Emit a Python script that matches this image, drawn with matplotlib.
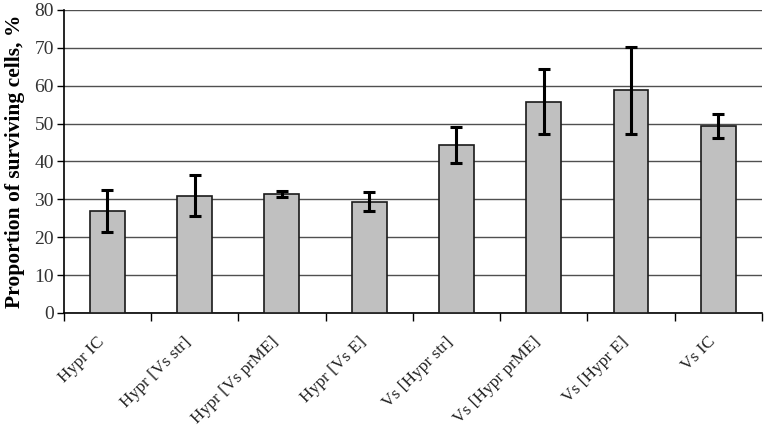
import matplotlib
matplotlib.use("Agg")
import matplotlib.pyplot as plt
import matplotlib.transforms as mtransforms
import numpy as np

categories = ["Hypr IC", "Hypr [Vs str]", "Hypr [Vs prME]", "Hypr [Vs E]",
              "Vs [Hypr str]", "Vs [Hypr prME]", "Vs [Hypr E]", "Vs IC"]
values = [27.0, 31.0, 31.3, 29.4, 44.4, 55.8, 58.8, 49.3]
errors = [5.5, 5.4, 0.8, 2.5, 4.8, 8.6, 11.5, 3.1]
y_ticks = [0, 10, 20, 30, 40, 50, 60, 70, 80]

plt.rcParams['font.family'] = ['Liberation Serif', 'DejaVu Serif']

fig = plt.figure(figsize=(7.68, 4.32), dpi=100)
ax = fig.add_axes([0.083, 0.2755, 0.909, 0.7015])

x = np.arange(len(categories))
ax.bar(x, values, width=0.4, color="#c0c0c0", edgecolor="#1a1a1a", linewidth=1.2, zorder=3)
ax.errorbar(x, values, yerr=errors, fmt="none", ecolor="black", elinewidth=2.2,
            capsize=4.5, capthick=2.2, zorder=4)

ax.set_xlim(-0.5, len(categories) - 0.5)
ax.set_ylim(0, 80)
ax.set_yticks(y_ticks)
ax.set_yticklabels([str(v) for v in y_ticks], fontsize=14, color="#333333")
ax.yaxis.grid(True, color="#505050", linewidth=1.0, zorder=0)
ax.set_axisbelow(True)

ax.set_xticks(x)
ax.set_xticklabels(categories, rotation=45, ha="right", rotation_mode="anchor",
                   fontsize=12.5, color="#222222")
ax.tick_params(axis="x", which="major", length=0, pad=15)
offset = mtransforms.ScaledTranslation(-11 / 100, 0, fig.dpi_scale_trans)
for lbl in ax.get_xticklabels():
    lbl.set_transform(lbl.get_transform() + offset)
ax.set_xticks(np.arange(-0.5, len(categories)), minor=True)
ax.tick_params(axis="x", which="minor", length=6, width=1, color="black")
ax.tick_params(axis="y", length=5, width=1, color="black", pad=2)

for s in ["top", "right"]:
    ax.spines[s].set_visible(False)
ax.spines["left"].set_linewidth(1.2)
ax.spines["bottom"].set_linewidth(1.2)

ax.set_ylabel("Proportion of surviving cells, %", fontsize=15.5, fontweight="bold", labelpad=7)

fig.savefig("out.png", dpi=100)
